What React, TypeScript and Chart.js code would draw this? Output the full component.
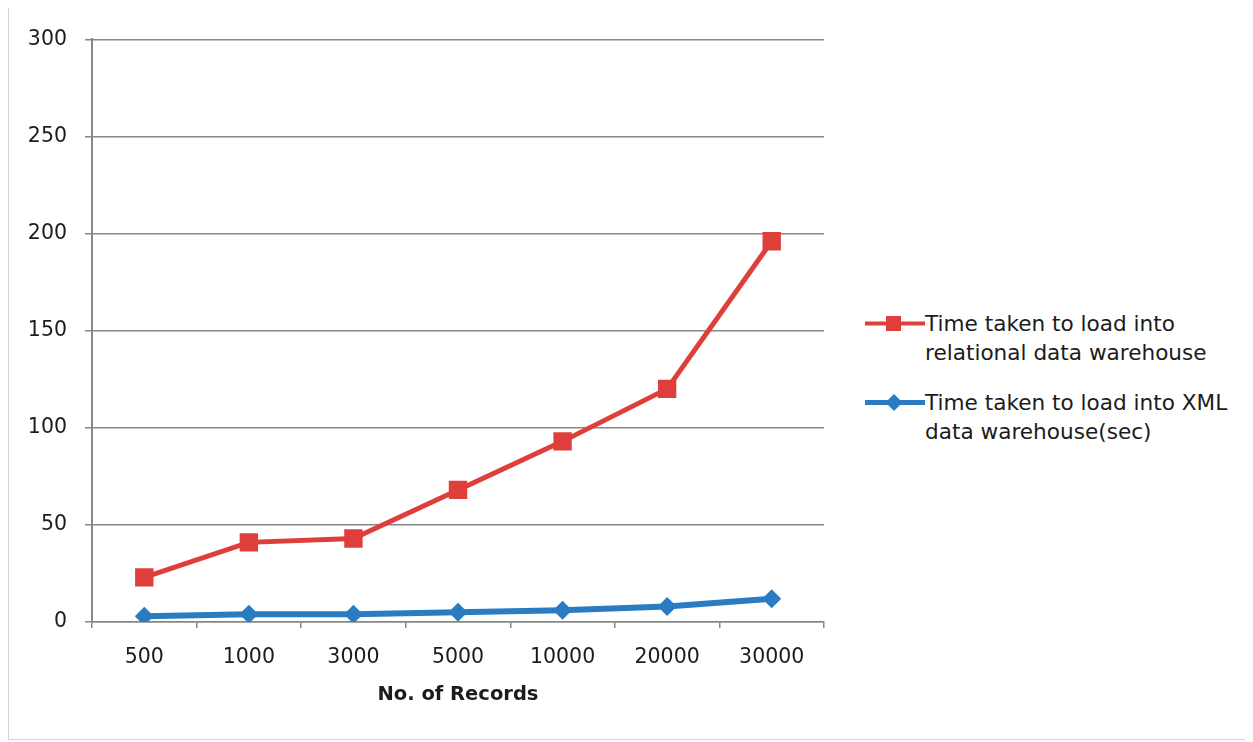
import React, { useEffect, useRef } from "react";
import { Chart, registerables } from "chart.js";

Chart.register(...registerables);

const categories = ["500", "1000", "3000", "5000", "10000", "20000", "30000"];
const relationalSeconds = [23, 41, 43, 68, 93, 120, 196];
const xmlSeconds = [3, 4, 4, 5, 6, 8, 12];
const yTicks = [0, 50, 100, 150, 200, 250, 300];
const relationalLabel = ["Time taken to load into", "relational data warehouse"];
const xmlLabel = ["Time taken to load into XML", "data warehouse(sec)"];
const xTitle = "No. of Records";

const RED = "#df3f3a";
const BLUE = "#2a7cc2";
const GRID = "#878787";
const FONT = "'DejaVu Sans', sans-serif";
const TEXT = "#1c1c1c";

export default function App() {
  const canvasRef = useRef<HTMLCanvasElement | null>(null);

  useEffect(() => {
    const canvas = canvasRef.current;
    if (!canvas) return;
    const chart = new Chart(canvas, {
      type: "line",
      data: {
        labels: categories,
        datasets: [
          {
            label: relationalLabel.join(" "),
            data: relationalSeconds,
            borderColor: RED,
            backgroundColor: RED,
            borderWidth: 5,
            pointStyle: "rect",
            pointRadius: 13,
            pointBorderWidth: 0,
            pointBackgroundColor: RED,
            tension: 0,
          },
          {
            label: xmlLabel.join(" "),
            data: xmlSeconds,
            borderColor: BLUE,
            backgroundColor: BLUE,
            borderWidth: 6,
            pointStyle: "rectRot",
            pointRadius: 9.5,
            pointBorderWidth: 0,
            pointBackgroundColor: BLUE,
            tension: 0,
          },
        ],
      },
      options: {
        animation: false,
        responsive: true,
        maintainAspectRatio: false,
        layout: { padding: { top: 29, right: 15, left: 0, bottom: 0 } },
        plugins: {
          legend: { display: false },
          tooltip: { enabled: false },
        },
        scales: {
          x: {
            type: "category",
            offset: true,
            grid: {
              drawOnChartArea: false,
              offset: true,
              drawTicks: true,
              tickLength: 6,
              color: GRID,
              lineWidth: 1.5,
            },
            border: { color: GRID, width: 1.5 },
            ticks: {
              padding: 17,
              color: TEXT,
              font: { family: FONT, size: 20.5 },
              maxRotation: 0,
              autoSkip: false,
            },
            title: {
              display: true,
              text: xTitle,
              color: TEXT,
              font: { family: FONT, size: 19.5, weight: "bold" },
              padding: { top: 0, bottom: 32 },
            },
            afterFit: (s: any) => {
              s.height = 117;
            },
          },
          y: {
            min: 0,
            max: 300,
            afterBuildTicks: (s: any) => {
              s.ticks = yTicks.map((v) => ({ value: v }));
            },
            grid: {
              color: GRID,
              lineWidth: 1.5,
              drawTicks: true,
              tickLength: 7,
            },
            border: { color: GRID, width: 2 },
            ticks: {
              padding: 18,
              color: TEXT,
              font: { family: FONT, size: 20.5 },
            },
            afterFit: (s: any) => {
              s.width = 83;
            },
          },
        },
      },
    });
    return () => chart.destroy();
  }, []);

  const textStyle: React.CSSProperties = {
    fontFamily: FONT,
    fontSize: 21.6,
    lineHeight: "29px",
    color: TEXT,
    whiteSpace: "nowrap",
  };

  return (
    <div
      style={{
        position: "relative",
        width: 1240,
        height: 733,
        marginTop: -1,
        border: "1px solid #d6d6d6",
        boxSizing: "border-box",
        background: "#fff",
      }}
    >
      <div style={{ position: "absolute", left: 0, top: 1, width: 830, height: 730 }}>
        <canvas ref={canvasRef} />
      </div>
      <div style={{ position: "absolute", left: 856, top: 301, display: "flex" }}>
        <svg width={60} height={29} style={{ display: "block" }}>
          <line x1={0} y1={14.5} x2={60} y2={14.5} stroke={RED} strokeWidth={4} />
          <rect x={21} y={7} width={15} height={15} fill={RED} />
        </svg>
        <div style={textStyle}>
          {relationalLabel.map((t, i) => (
            <div key={i}>{t}</div>
          ))}
        </div>
      </div>
      <div style={{ position: "absolute", left: 856, top: 380, display: "flex" }}>
        <svg width={60} height={29} style={{ display: "block" }}>
          <line x1={0} y1={14.5} x2={60} y2={14.5} stroke={BLUE} strokeWidth={5} />
          <polygon points="29,6 37.5,14.5 29,23 20.5,14.5" fill={BLUE} />
        </svg>
        <div style={textStyle}>
          {xmlLabel.map((t, i) => (
            <div key={i}>{t}</div>
          ))}
        </div>
      </div>
    </div>
  );
}
